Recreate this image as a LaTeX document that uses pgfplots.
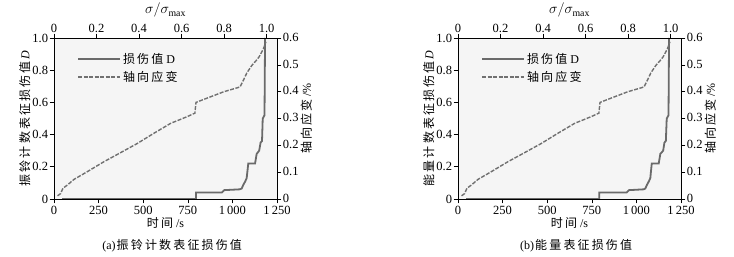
\documentclass[border=0pt]{standalone}
\usepackage{pgfplots}
\pgfplotsset{compat=1.18}
\usepackage{pgfplotstable}
\usepackage{fontspec}
\setmainfont{Liberation Serif}
\newfontfamily\cjk[LetterSpace=18]{Noto Sans CJK SC}
\definecolor{dline}{HTML}{6A6A6A}
\definecolor{sline}{HTML}{707070}
\newcommand\fs{\fontsize{12}{14}\selectfont}
\newcommand\fst{\fontsize{12.5}{14}\selectfont}

\pgfplotstableread{
t D
45 0
796 0
796 0.04
940 0.04
955 0.055
1040 0.06
1052 0.065
1062 0.09
1071 0.107
1080 0.13
1089 0.22
1127 0.22
1136 0.28
1150 0.30
1158 0.35
1166 0.36
1170 0.50
1180 0.52
1183 1.0
}\damagea

\pgfplotstableread{
t D
45 0
792 0
792 0.04
945 0.04
958 0.055
1040 0.06
1050 0.065
1060 0.09
1070 0.11
1078 0.13
1086 0.22
1125 0.22
1134 0.28
1150 0.30
1157 0.35
1165 0.36
1170 0.50
1180 0.52
1183 1.0
}\damageb

\pgfplotstableread{
t s
20 0.012
37 0.02
50 0.04
75 0.052
112 0.073
187 0.102
280 0.139
374 0.173
467 0.207
560 0.245
654 0.282
747 0.307
790 0.320
792 0.335
796 0.360
878 0.381
953 0.400
1030 0.415
1043 0.418
1062 0.443
1081 0.470
1108 0.497
1136 0.518
1150 0.530
1174 0.560
1188 0.586
}\strain

\pgfplotsset{
  base/.style={scale only axis, width=223pt, height=161pt, xmin=0, xmax=1250,
    anchor=south west, tick align=outside,
    xticklabel style={font=\fst, inner sep=1pt},
    yticklabel style={font=\fst, inner sep=1.5pt},
    /pgf/number format/assume math mode=true,
    tick style={black, line width=0.6pt}, axis line style={black, line width=0.7pt},
    clip mode=individual},
}

\newcommand\panel[5]{%
  \begin{axis}[base, at={(#1,58pt)}, ymin=0, ymax=1,
    axis background/.style={fill=black!4},
    axis y line*=left, axis x line*=bottom,
    xtick={0,250,500,750,1000,1250}, xticklabels={0,250,500,750,1\,000,1\,250},
    xticklabel style={yshift=-1.5pt},
    ytick={0,0.2,0.4,0.6,0.8,1.0}, yticklabels={0,0.2,0.4,0.6,0.8,1.0},
    xlabel={{\cjk 时间} /s}, xlabel style={font=\fs, yshift=1pt},
    ylabel={{\cjk #2}\,\textit{D}}, ylabel style={font=\fs, yshift=-3pt},
    legend style={at={(0.09,0.93)}, anchor=north west, draw=none, fill=none,
      font=\fs, row sep=2pt},
    legend cell align=left,
    legend image code/.code={\draw[##1] (0pt,0pt) -- (42pt,0pt);}]
    \addplot[dline, line width=1.8pt] table[x=t,y=D] {#5};
    \addlegendentry{{\cjk 损伤值} D}
    \addlegendimage{sline, line width=1.5pt, dash pattern=on 4pt off 1.5pt}
    \addlegendentry{\cjk 轴向应变}
    \node[anchor=north, font=\fs] at (rel axis cs:0.53,0) [yshift=-37pt] {(#3)\kern1pt{\cjk #4}};
  \end{axis}
  \begin{axis}[base, at={(#1,58pt)}, ymin=0, ymax=0.6,
    axis y line*=right, axis x line=none,
    ytick={0,0.1,0.2,0.3,0.4,0.5,0.6}, yticklabels={0,0.1,0.2,0.3,0.4,0.5,0.6},
    yticklabel style={yshift=0.8pt},
    ylabel={{\cjk 轴向应变} /\%}, ylabel near ticks, yticklabel pos=right,
    ylabel style={font=\fs, yshift=3pt}]
    \addplot[sline, line width=1.4pt, dash pattern=on 4pt off 1.5pt] table[x=t,y=s] {\strain};
  \end{axis}
  \begin{axis}[base, at={(#1,58pt)}, xmin=0, xmax=1.0487, ymin=0, ymax=1,
    axis x line*=top, axis y line=none,
    xtick={0,0.2,0.4,0.6,0.8,1.0}, xticklabels={0,0.2,0.4,0.6,0.8,1.0},
    xticklabel pos=top, xlabel near ticks,
    xlabel={$\sigma/\sigma_{\mathrm{max}}$},
    xlabel style={font=\fontsize{14}{16}\selectfont, yshift=2pt}]
  \end{axis}
}

\begin{document}
\begin{tikzpicture}
\useasboundingbox (0,0) rectangle (734pt,257pt);
\panel{54pt}{振铃计数表征损伤值}{a}{振铃计数表征损伤值}{\damagea}
\panel{458pt}{能量计数表征损伤值}{b}{能量表征损伤值}{\damageb}
\end{tikzpicture}
\end{document}
